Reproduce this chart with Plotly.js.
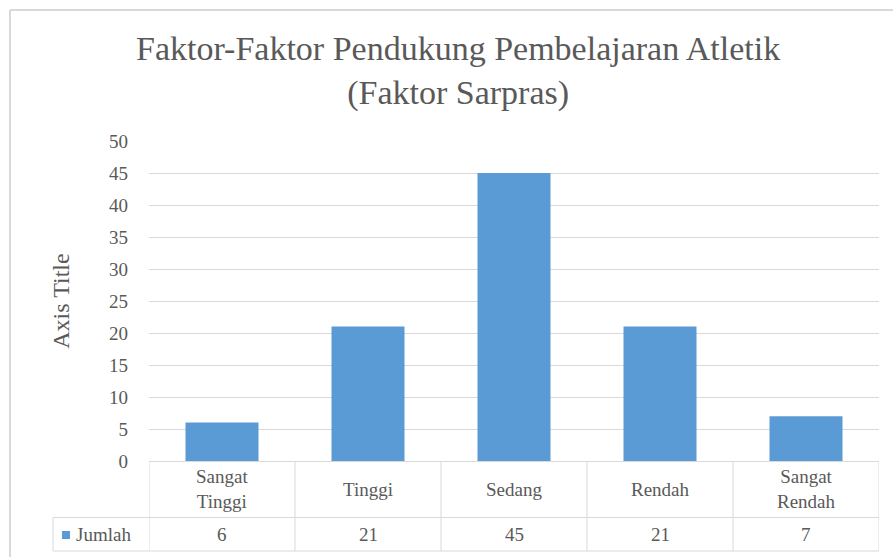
<!DOCTYPE html>
<html>
<head>
<meta charset="utf-8">
<script src="https://cdn.plot.ly/plotly-3.0.1.min.js"></script>
<style>html,body{margin:0;padding:0;background:#fff;}#chart{width:893px;height:557px;}</style>
</head>
<body>
<div id="chart"></div>
<script>
const categories = ["Sangat Tinggi", "Tinggi", "Sedang", "Rendah", "Sangat Rendah"];
const categoryLabels = ["Sangat<br>Tinggi", "Tinggi", "Sedang", "Rendah", "Sangat<br>Rendah"];
const seriesName = "Jumlah";
const jumlah = [6, 21, 45, 21, 7];
const yTicks = [0, 5, 10, 15, 20, 25, 30, 35, 40, 45, 50];

const W = 893, H = 557;
const L = 149, R = 879, T = 141, B = 461;
const px = X => (X - L) / (R - L);
const py = Y => (B - Y) / (B - T);

const FONT = "Liberation Serif";
const TXT = "#595959";
const GRID = "#d9d9d9";
const BLUE = "#5b9bd5";

const idx = categories.map((c, i) => i);

const shapes = [];
shapes.push({type:'line', xref:'paper', yref:'paper', x0:px(10), x1:px(W+10), y0:py(10), y1:py(10), line:{color:GRID, width:2}});
shapes.push({type:'line', xref:'paper', yref:'paper', x0:px(10), x1:px(10), y0:py(10), y1:py(H+10), line:{color:GRID, width:2}});
const rowTop = py(517.5), rowBot = py(551);
shapes.push({type:'line', xref:'paper', yref:'paper', x0:px(53), x1:1, y0:rowTop, y1:rowTop, line:{color:GRID, width:1}});
shapes.push({type:'line', xref:'paper', yref:'paper', x0:px(53), x1:1, y0:rowBot, y1:rowBot, line:{color:GRID, width:1}});
shapes.push({type:'line', xref:'paper', yref:'paper', x0:px(53), x1:px(53), y0:rowTop, y1:rowBot, line:{color:GRID, width:1}});
for (let i = 0; i <= categories.length; i++) {
  shapes.push({type:'line', xref:'x', yref:'paper', x0:i-0.5, x1:i-0.5, y0:0, y1:rowBot, line:{color:GRID, width:1}});
}
shapes.push({type:'rect', xref:'paper', yref:'paper', x0:px(62), x1:px(70), y0:py(539), y1:py(531), fillcolor:BLUE, line:{width:0}});

const annotations = [];
idx.forEach(i => {
  annotations.push({xref:'x', yref:'paper', x:i, y:(0 + rowTop)/2, text:categoryLabels[i], showarrow:false,
    xanchor:'center', yanchor:'middle', font:{family:FONT, size:19, color:TXT}});
  annotations.push({xref:'x', yref:'paper', x:i, y:(rowTop + rowBot)/2, text:String(jumlah[i]), showarrow:false,
    xanchor:'center', yanchor:'middle', font:{family:FONT, size:19, color:TXT}});
});
annotations.push({xref:'paper', yref:'paper', x:px(74), y:(rowTop + rowBot)/2, text:seriesName, showarrow:false,
  xanchor:'left', yanchor:'middle', font:{family:FONT, size:19, color:TXT}});

const data = [{
  type:'bar', x:idx, y:jumlah, name:seriesName, marker:{color:BLUE, line:{width:0}},
  hoverinfo:'skip'
}];

const layout = {
  width:W, height:H,
  margin:{l:L, r:W-R, t:T, b:H-B, pad:0},
  paper_bgcolor:'#ffffff', plot_bgcolor:'#ffffff',
  font:{family:FONT, color:TXT},
  showlegend:false,
  bargap:0.5,
  title:{text:"Faktor-Faktor Pendukung Pembelajaran Atletik<br>(Faktor Sarpras)", x:0.513, xanchor:'center', y:0.892, yanchor:'bottom',
    font:{family:FONT, size:34, color:TXT}},
  xaxis:{range:[-0.5, categories.length-0.5], showticklabels:false, showgrid:false, zeroline:false,
    showline:true, linecolor:GRID, linewidth:1, ticks:'', fixedrange:true},
  yaxis:{range:[0, 50], tickvals:yTicks, ticktext:yTicks.map(String), showgrid:true, gridcolor:GRID, gridwidth:1,
    zeroline:false, showline:false, ticks:'', ticklabelstandoff:20,
    tickfont:{family:FONT, size:19, color:TXT},
    title:{text:"Axis Title", standoff:32, font:{family:FONT, size:24, color:TXT}}, fixedrange:true},
  shapes:shapes, annotations:annotations
};

Plotly.newPlot('chart', data, layout, {staticPlot:true, displayModeBar:false});
</script>
</body>
</html>
